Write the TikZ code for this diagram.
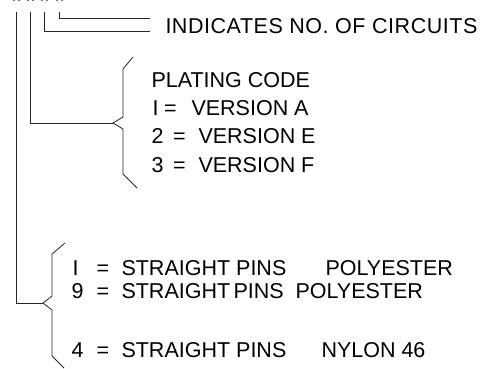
\documentclass[tikz,border=0pt]{standalone}
\usepackage{fontspec}
\setmainfont{Liberation Sans}
\begin{document}
\begin{tikzpicture}[x=1pt,y=-1pt,
  ln/.style={line width=0.8pt, draw=black!85},
  lbl/.style={anchor=base west, inner sep=0pt, outer sep=0pt, font=\fontsize{21.5}{24}\selectfont}]
\useasboundingbox (0,0) rectangle (494,368);
% tiny marks at the top (cut-off text)
\foreach \x in {13,27,41,56}{
  \draw[ln, draw=black!55, line width=0.6pt] (\x,0.6) -- (\x+2,0.6) (\x+5,0.6) -- (\x+7,0.6);
}
% top label
\node[lbl, font=\fontsize{21.5}{24}\selectfont\addfontfeatures{LetterSpace=2.5}] (circ) at (165.5,33) {INDICATES NO. OF CIRCUITS};
\coordinate (c4) at (59,12);
\coordinate (c3) at (44,12);
\coordinate (c2) at (30,12);
\coordinate (c1) at (16,12);
\coordinate (h4) at (150,18);
\coordinate (h3) at (150,31);
\draw[ln] (c4) |- (h4);
\draw[ln] (c3) |- (h3);
% plating code
\coordinate (tipA) at (113,123);
\draw[ln] (c2) |- (tipA);
\draw[ln] (133,57) -- (123,69) -- (123,117) -- (tipA) -- (123,129) -- (123,174) -- (137,188);
\node[lbl] (pc) at (151.5,87) {PLATING CODE};
\node[lbl] (p1) at (152.5,115) {I};
\node[lbl] (p1e) at (164,115) {=};
\node[lbl] (p1t) at (191.5,115) {VERSION A};
\node[lbl] (p2) at (151.5,143) {2};
\node[lbl] (p2e) at (173,143) {=};
\node[lbl] (p2t) at (198.5,143) {VERSION E};
\node[lbl] (p3) at (151.5,172) {3};
\node[lbl] (p3e) at (173,172) {=};
\node[lbl] (p3t) at (198.5,172) {VERSION F};
% pins
\coordinate (tipB) at (43,303);
\draw[ln] (c1) |- (tipB);
\draw[ln] (65,243) -- (52,254) -- (52,296) -- (tipB) -- (52,310) -- (52,356) -- (64,368);
\node[lbl] (b1) at (72.5,275) {I};
\node[lbl] (b1e) at (96.5,275) {=};
\node[lbl] (b1t) at (121.5,275) {STRAIGHT PINS};
\node[lbl] (b1m) at (325.5,275) {POLYESTER};
\node[lbl] (b2) at (71.5,298) {9};
\node[lbl] (b2e) at (96.5,298) {=};
\node[lbl] (b2t) at (121.5,298) {STRAIGHT};
\node[lbl] (b2p) at (233.5,298) {PINS};
\node[lbl] (b2m) at (295.5,298) {POLYESTER};
\node[lbl] (b3) at (71.5,357) {4};
\node[lbl] (b3e) at (96.5,357) {=};
\node[lbl] (b3t) at (121.5,357) {STRAIGHT PINS};
\node[lbl] (b3m) at (321.5,357) {NYLON 46};
\end{tikzpicture}
\end{document}
